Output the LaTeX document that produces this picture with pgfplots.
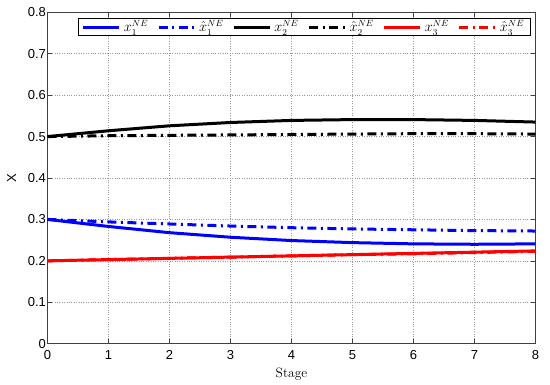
\documentclass[border=0pt]{standalone}
\usepackage{fontspec}
\usepackage{pgfplots}
\pgfplotsset{compat=1.18}
\newfontfamily\arial{Liberation Sans}
\begin{document}
\begin{tikzpicture}
\useasboundingbox (-47.5pt,-41.3pt) rectangle (502.5pt,343.7pt);
\begin{axis}[
  at={(0pt,0pt)}, anchor=south west,
  scale only axis,
  width=488pt, height=331.4pt,
  xmin=0, xmax=8, ymin=0, ymax=0.8,
  xtick={0,1,...,8},
  ytick={0,0.1,0.2,0.3,0.4,0.5,0.6,0.7,0.8},
  yticklabels={0,0.1,0.2,0.3,0.4,0.5,0.6,0.7,0.8},
  tick align=inside,
  tick pos=both,
  major tick length=4.5pt,
  axis line style={black!75, line width=0.7pt},
  every tick/.style={black!75, line width=0.6pt},
  grid=major,
  major grid style={black!40, dotted, line width=0.6pt},
  /pgf/number format/assume math mode=true,
  tick label style={font=\arial\fontsize{13}{14}\selectfont},
  xticklabel style={yshift=-3pt},
  yticklabel style={xshift=2pt},
  xlabel={\fontsize{13.5}{15}\selectfont Stage},
  ylabel={\arial\fontsize{13}{14}\selectfont X},
  xlabel style={yshift=-2pt},
  ylabel style={yshift=5pt},
  legend columns=6,
  legend style={at={(0.9898,0.982)}, anchor=north east, draw=black, line width=0.7pt,
    font=\fontsize{13.5}{13.5}\selectfont, inner xsep=4pt, inner ysep=0pt,
    /tikz/every odd column/.append style={column sep=1pt},
    /tikz/every even column/.append style={column sep=7pt}},
  legend image code/.code={\draw[#1] plot coordinates {(0pt,0pt) (36pt,0pt)};},
]
\addplot[blue, line width=3pt] coordinates {(0,0.300) (1,0.283) (2,0.268) (3,0.257) (4,0.249) (5,0.244) (6,0.241) (7,0.240) (8,0.241)};
\addlegendentry{$x_1^{NE}$}
\addplot[blue, line width=3pt, dash pattern=on 9pt off 4.5pt on 2pt off 4.5pt] coordinates {(0,0.300) (1,0.294) (2,0.289) (3,0.284) (4,0.280) (5,0.277) (6,0.275) (7,0.273) (8,0.272)};
\addlegendentry{$\hat{x}_1^{NE}$}
\addplot[black, line width=3pt] coordinates {(0,0.500) (1,0.514) (2,0.526) (3,0.534) (4,0.539) (5,0.541) (6,0.541) (7,0.539) (8,0.535)};
\addlegendentry{$x_2^{NE}$}
\addplot[black, line width=3pt, dash pattern=on 9pt off 4.5pt on 2pt off 4.5pt] coordinates {(0,0.500) (1,0.502) (2,0.503) (3,0.504) (4,0.505) (5,0.506) (6,0.507) (7,0.507) (8,0.506)};
\addlegendentry{$\hat{x}_2^{NE}$}
\addplot[red, line width=3pt, dash pattern=on 9pt off 4.5pt on 2pt off 4.5pt, forget plot] coordinates {(0,0.200) (1,0.203) (2,0.206) (3,0.209) (4,0.212) (5,0.215) (6,0.217) (7,0.220) (8,0.223)};
\addplot[red, line width=3pt] coordinates {(0,0.200) (1,0.203) (2,0.206) (3,0.209) (4,0.212) (5,0.215) (6,0.218) (7,0.221) (8,0.224)};
\addlegendentry{$x_3^{NE}$}
\addlegendimage{red, line width=3pt, dash pattern=on 9pt off 4.5pt on 2pt off 4.5pt}
\addlegendentry{$\hat{x}_3^{NE}$}
\end{axis}
\end{tikzpicture}
\end{document}
